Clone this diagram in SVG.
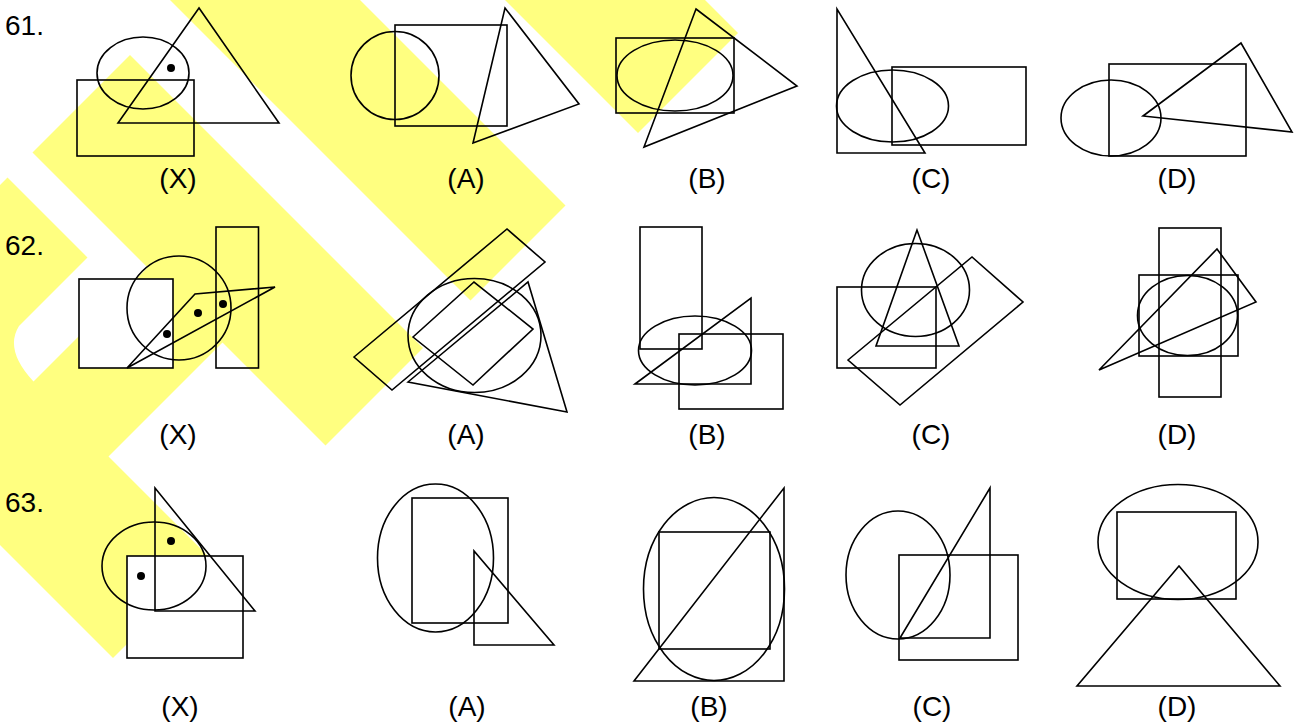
<svg xmlns="http://www.w3.org/2000/svg" width="1296" height="722" viewBox="0 0 1296 722">
<style>
.s{fill:none;stroke:#000;stroke-width:1.6}
.w{fill:#fff;stroke:#000;stroke-width:1.6}
.t{font-family:"Liberation Sans",Arial,sans-serif;font-size:28px;fill:#000;text-anchor:middle}
.n{font-family:"Liberation Sans",Arial,sans-serif;font-size:28px;fill:#000}
.y{fill:#ffff80}
</style>
<rect width="1296" height="722" fill="#fff"/>
<g id="watermark">
<polygon class="y" points="170,0 360,0 565.5,205.5 470.5,300.5"/>
<polygon class="y" points="505,0 705,0 738,33 638,133"/>
<polygon class="y" points="130,55 423,348 325.5,445.5 32.5,152.5"/>
<path class="y" d="M0,185 L7.5,177.5 L87.5,257.5 L19,326 Q4,350 33.5,381.5 L148.5,266.5 L223.5,341.5 L108.5,456.5 L211.5,559.5 L113,658 L0,545 Z"/>
</g>
<g id="q61">
<text class="n" x="5" y="35">61.</text>
<g id="q61x">
<rect class="s" x="77" y="80" width="117" height="76"/>
<ellipse class="s" cx="143" cy="73" rx="46" ry="36"/>
<polygon class="s" points="199,8 118,123 279,123"/>
<circle cx="171" cy="68" r="4"/>
<text class="t" x="178" y="188">(X)</text>
</g>
<g id="q61a">
<circle class="s" cx="395" cy="75.5" r="44"/>
<rect class="s" x="395" y="25" width="112" height="101"/>
<polygon class="s" points="505,8 579,104 473,143"/>
<text class="t" x="466" y="188">(A)</text>
</g>
<g id="q61b">
<rect class="s" x="616" y="38" width="118" height="75"/>
<ellipse class="s" cx="675" cy="75.5" rx="58" ry="35.5"/>
<polygon class="s" points="696,9 797,86 644,147"/>
<text class="t" x="707" y="188">(B)</text>
</g>
<g id="q61c">
<polygon class="s" points="837,9 837,153 925,153"/>
<ellipse class="s" cx="892.5" cy="106" rx="56" ry="36"/>
<rect class="s" x="892" y="67" width="134" height="78"/>
<text class="t" x="931" y="188">(C)</text>
</g>
<g id="q61d">
<ellipse class="s" cx="1111" cy="118" rx="50" ry="38"/>
<rect class="s" x="1109" y="64" width="137" height="92"/>
<polygon class="s" points="1143,116 1241,43 1292,132"/>
<text class="t" x="1177" y="188">(D)</text>
</g>
</g>
<g id="q62">
<text class="n" x="5" y="255">62.</text>
<g id="q62x">
<rect class="w" x="79" y="279" width="94" height="89"/>
<circle class="s" cx="179" cy="308" r="52"/>
<rect class="s" x="216" y="227" width="42.5" height="141"/>
<polygon class="s" points="127,368 195,294 275,287"/>
<circle cx="167" cy="334" r="4"/>
<circle cx="198" cy="313" r="4"/>
<circle cx="223" cy="304" r="4"/>
<text class="t" x="178" y="444">(X)</text>
</g>
<g id="q62a">
<polygon class="s" points="354,357 507,229 545,262 392,390"/>
<ellipse class="s" cx="474.5" cy="335.5" rx="66.5" ry="57"/>
<polygon class="s" points="413,337 474,282 533,329 473,385"/>
<polygon class="s" points="408,382 528,282 567,412"/>
<text class="t" x="466" y="444">(A)</text>
</g>
<g id="q62b">
<rect class="s" x="640" y="227" width="62" height="122"/>
<ellipse class="s" cx="695" cy="350.5" rx="56.5" ry="34.5"/>
<polygon class="s" points="635,384 751,298 751,384"/>
<rect class="s" x="679" y="334" width="104" height="75"/>
<text class="t" x="707" y="444">(B)</text>
</g>
<g id="q62c">
<ellipse class="s" cx="915.5" cy="290" rx="54" ry="46.5"/>
<polygon class="s" points="917,230 876,346 959,346"/>
<rect class="s" x="837" y="287" width="99" height="81"/>
<polygon class="s" points="848,360 972,257 1023,302 900,405"/>
<text class="t" x="931" y="444">(C)</text>
</g>
<g id="q62d">
<rect class="s" x="1159" y="228" width="62" height="169"/>
<rect class="s" x="1139" y="275" width="99" height="81"/>
<ellipse class="s" cx="1187.5" cy="315.5" rx="50" ry="40"/>
<polygon class="s" points="1099,370 1217,249 1256,302"/>
<text class="t" x="1177" y="444">(D)</text>
</g>
</g>
<g id="q63">
<text class="n" x="5" y="512">63.</text>
<g id="q63x">
<rect class="w" x="127" y="556" width="116" height="102"/>
<polygon class="s" points="155,488 155,611 255,611"/>
<ellipse class="s" cx="154" cy="566" rx="52" ry="44"/>
<circle cx="171" cy="541" r="4"/>
<circle cx="141" cy="576" r="4"/>
<text class="t" x="180" y="716">(X)</text>
</g>
<g id="q63a">
<ellipse class="s" cx="435.5" cy="558" rx="58" ry="74"/>
<rect class="s" x="412" y="498" width="96" height="125"/>
<polygon class="s" points="474,551 474,645 554,645"/>
<text class="t" x="467" y="716">(A)</text>
</g>
<g id="q63b">
<ellipse class="s" cx="714" cy="589" rx="70.5" ry="91.5"/>
<rect class="s" x="659" y="532" width="111" height="117"/>
<polygon class="s" points="634,681 784,488 784,681"/>
<text class="t" x="709" y="716">(B)</text>
</g>
<g id="q63c">
<ellipse class="s" cx="898" cy="575" rx="52" ry="64"/>
<rect class="s" x="899" y="555" width="119" height="105"/>
<polygon class="s" points="900,638 990,488 990,638"/>
<text class="t" x="932" y="716">(C)</text>
</g>
<g id="q63d">
<ellipse class="s" cx="1178" cy="542" rx="80" ry="57.5" stroke-width="2.2"/>
<rect class="s" x="1117" y="512" width="119" height="87" stroke-width="2.2"/>
<polygon class="s" points="1179,566 1077,686 1280,686" stroke-width="2.2"/>
<text class="t" x="1177" y="716">(D)</text>
</g>
</g>
</svg>
